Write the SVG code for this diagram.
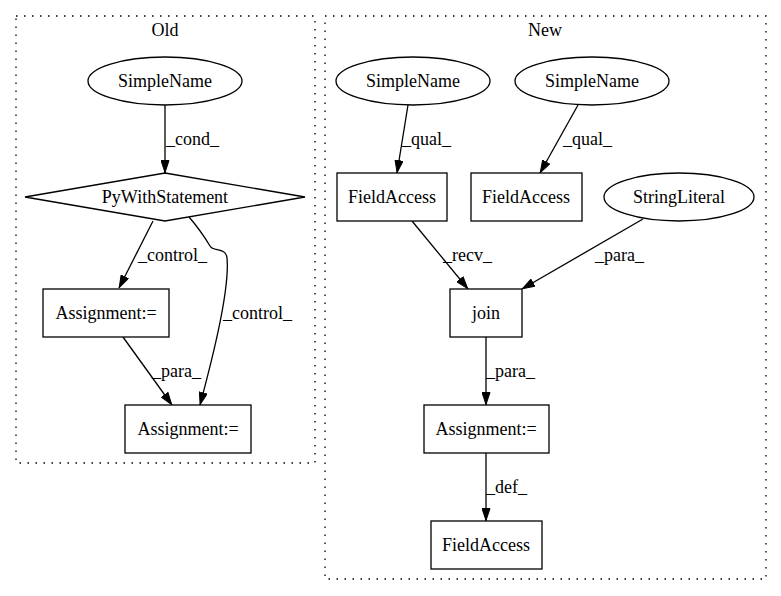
<svg xmlns="http://www.w3.org/2000/svg" width="781" height="596" viewBox="0 0 781 596">
<style>
text{font-family:"Liberation Serif",serif;font-size:18px;fill:#000}
.c{text-anchor:middle}
.n{fill:#fff;stroke:#000;stroke-width:1.3}
.cl{fill:none;stroke:#000;stroke-width:1.3;stroke-dasharray:1.5,6.5}
.e{fill:none;stroke:#000;stroke-width:1.3;marker-end:url(#a)}
</style>
<defs>
<marker id="a" viewBox="0 0 13 9" refX="13" refY="4.5" markerWidth="13" markerHeight="9" markerUnits="userSpaceOnUse" orient="auto">
<path d="M0.5,0.5 L12.5,4.5 L0.5,8.5 z" fill="#000" stroke="#000"/>
</marker>
</defs>
<rect width="781" height="596" fill="#fff"/>
<g id="cluster_old">
<rect class="cl" x="16" y="16" width="299" height="447"/>
<text class="c" x="165" y="36">Old</text>
</g>
<g id="cluster_new">
<rect class="cl" x="325" y="16" width="441" height="563"/>
<text class="c" x="545" y="36">New</text>
</g>
<g id="edges">
<path class="e" d="M165,105 L165,173"/>
<text x="166" y="145">_cond_</text>
<path class="e" d="M153,221 L119,288"/>
<text x="138" y="261">_control_</text>
<path class="e" d="M189,217 C196,225 204,236 210,246 C213,252 226,247 227,258 C230,290 212,360 200,405"/>
<text x="223" y="319">_control_</text>
<path class="e" d="M123,337 L172,405"/>
<text x="152" y="377">_para_</text>
<path class="e" d="M408,105 L397,173"/>
<text x="402" y="145">_qual_</text>
<path class="e" d="M578,105 L540,173"/>
<text x="563" y="145">_qual_</text>
<path class="e" d="M412,221 L468,289"/>
<text x="443" y="261">_recv_</text>
<path class="e" d="M643,219 L522,289"/>
<text x="595" y="261">_para_</text>
<path class="e" d="M486,337 L486,405"/>
<text x="486" y="377">_para_</text>
<path class="e" d="M486,453 L486,521"/>
<text x="486" y="493">_def_</text>
</g>
<g id="old_simplename">
<ellipse class="n" cx="165" cy="81" rx="77" ry="24"/>
<text class="c" x="165" y="87">SimpleName</text>
</g>
<g id="old_pywith">
<polygon class="n" points="165,173 305,197 165,221 25,197"/>
<text class="c" x="165" y="203">PyWithStatement</text>
</g>
<g id="old_assign1">
<rect class="n" x="43" y="289" width="126" height="48"/>
<text class="c" x="106" y="319">Assignment:=</text>
</g>
<g id="old_assign2">
<rect class="n" x="125" y="405" width="126" height="48"/>
<text class="c" x="188" y="435">Assignment:=</text>
</g>
<g id="new_simplename1">
<ellipse class="n" cx="413" cy="81" rx="77" ry="24"/>
<text class="c" x="413" y="87">SimpleName</text>
</g>
<g id="new_simplename2">
<ellipse class="n" cx="592" cy="81" rx="77" ry="24"/>
<text class="c" x="592" y="87">SimpleName</text>
</g>
<g id="new_fieldaccess1">
<rect class="n" x="337" y="173" width="110" height="48"/>
<text class="c" x="392" y="203">FieldAccess</text>
</g>
<g id="new_fieldaccess2">
<rect class="n" x="471" y="173" width="111" height="48"/>
<text class="c" x="526" y="203">FieldAccess</text>
</g>
<g id="new_stringliteral">
<ellipse class="n" cx="679" cy="197" rx="75" ry="24"/>
<text class="c" x="679" y="203">StringLiteral</text>
</g>
<g id="new_join">
<rect class="n" x="450" y="289" width="72" height="48"/>
<text class="c" x="486" y="319">join</text>
</g>
<g id="new_assign">
<rect class="n" x="424" y="405" width="125" height="48"/>
<text class="c" x="486" y="435">Assignment:=</text>
</g>
<g id="new_fieldaccess3">
<rect class="n" x="431" y="521" width="111" height="48"/>
<text class="c" x="486" y="551">FieldAccess</text>
</g>
</svg>
